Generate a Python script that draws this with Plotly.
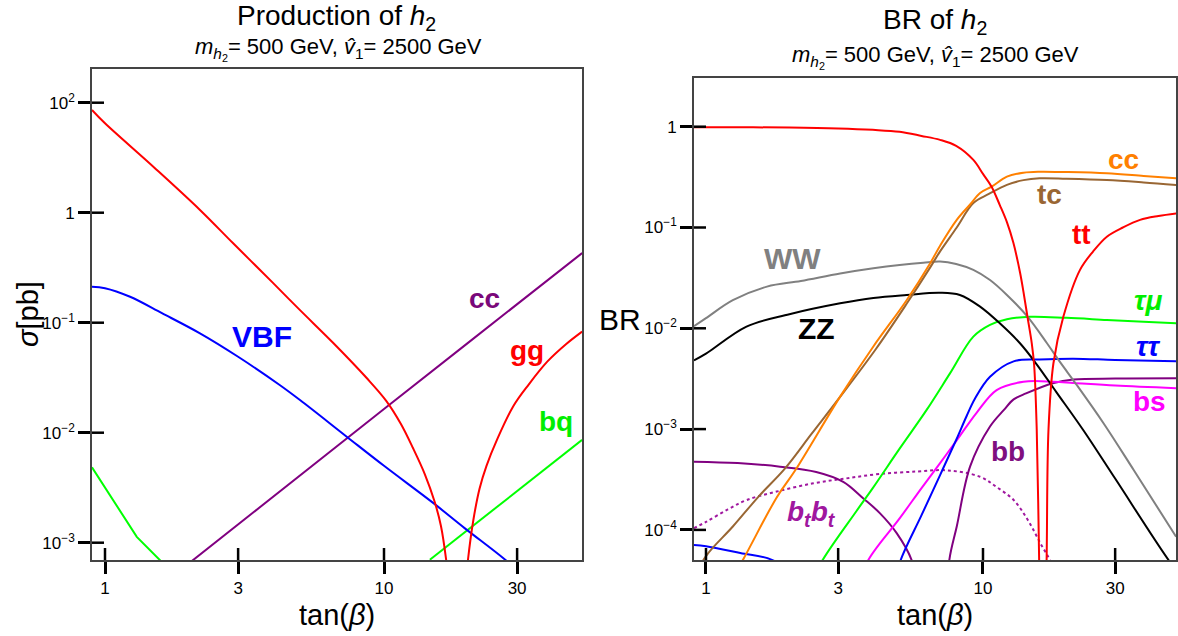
import plotly.graph_objects as go

W, H = 1178, 636

# ---------------- data: left panel (production cross sections, pb) ----------------
gg_t = [0.898, 1.0, 1.5, 2.19, 2.88, 4.0, 5.0, 6.58, 8.67, 10.2, 11.5, 12.7, 14.0, 15.2, 16.0, 16.7,
        17.4, 18.0, 18.4, 18.8, 19.5, 20.0, 20.9, 22.0, 23.3, 25.4, 29.1, 33.0, 38.4, 45.0, 51.3]
gg_v = [8.6, 6.5, 2.58, 1.06, 0.527, 0.23, 0.130, 0.0654, 0.0314, 0.0194, 0.0120, 0.00726, 0.00421, 0.00234,
        0.00142, 0.0007, 0.00025, 0.00005, 0.000001, 0.00005, 0.00035, 0.0007, 0.0016, 0.0031, 0.005,
        0.0086, 0.0175, 0.0274, 0.044, 0.064, 0.083]

vbf_t = [0.898, 1.0, 1.23, 1.6, 2.19, 3.0, 4.24, 5.0, 7.35, 10.0, 15.0, 19.5, 27.2, 35.0]
vbf_v = [0.212, 0.206, 0.172, 0.122, 0.080, 0.049, 0.027, 0.0198, 0.0092, 0.0050, 0.0023, 0.00135, 0.0007, 0.0004]

ccp_t = [2.0, 3.0, 5.0, 10.0, 20.0, 30.0, 51.3]
ccp_v = [0.00065, 0.00147, 0.0041, 0.0164, 0.0655, 0.147, 0.43]

bq_t = [0.898, 1.3, 1.7, None, 14.6, 20.0, 30.0, 51.3]
bq_v = [0.00485, 0.00113, 0.00057, None, 0.0007, 0.00131, 0.00296, 0.0086]

# ---------------- data: right panel (branching ratios) ----------------
tt_t = [0.905, 1.0, 2.0, 3.0, 4.0, 5.0, 6.0, 7.0, 8.0, 9.23, 10.0, 10.74, 11.5, 12.2, 12.88, 13.6, 14.0,
        14.5, 15.0, 15.3, 15.63, 15.95, 16.2, 16.45, 16.7, 16.97, 17.24, 17.96, 19.5, 22.4, 25.0, 28.0,
        32.0, 36.9, 43.0, 50.0]
tt_v = [0.99, 0.99, 0.98, 0.96, 0.93, 0.89, 0.81, 0.74, 0.645, 0.468, 0.34, 0.254, 0.167, 0.113, 0.07,
        0.036, 0.023, 0.0126, 0.0071, 0.0043, 0.0010, 0.00005, 0.000005, 0.000001, 0.000005, 0.00005,
        0.0010, 0.0045, 0.013, 0.038, 0.058, 0.081, 0.100, 0.119, 0.130, 0.138]

cc_t = [1.2, 1.36, 1.8, 2.1, 3.05, 4.02, 5.3, 6.44, 7.0, 8.04, 9.0, 9.76, 10.74, 12.2, 14.0, 16.0, 20.0,
        28.0, 38.0, 49.8]
cc_v = [2.8e-5, 5.05e-5, 2.1e-4, 3.9e-4, 2.1e-3, 6.6e-3, 0.019, 0.044, 0.066, 0.119, 0.17, 0.22, 0.254,
        0.32, 0.35, 0.358, 0.355, 0.345, 0.325, 0.308]

tc_t = [0.9, 1.0, 1.25, 1.545, 1.93, 2.4, 3.0, 4.1, 5.3, 6.44, 7.0, 8.04, 9.23, 10.5, 12.2, 14.0, 16.0,
        20.0, 28.0, 38.0, 49.8]
tc_v = [3.2e-5, 5.5e-5, 1.08e-4, 2.13e-4, 4.08e-4, 8.9e-4, 1.97e-3, 6.2e-3, 0.0175, 0.040, 0.058, 0.10,
        0.175, 0.215, 0.265, 0.295, 0.308, 0.305, 0.296, 0.28, 0.264]

ww_t = [0.905, 1.0, 1.25, 1.66, 2.2, 3.05, 4.02, 5.0, 6.09, 7.0, 8.0, 9.23, 10.6, 12.2, 14.5, 17.0, 18.9,
        21.8, 27.2, 35.0, 49.8]
ww_v = [0.0105, 0.0126, 0.019, 0.0259, 0.0295, 0.035, 0.0394, 0.0425, 0.0448, 0.046, 0.0435, 0.038, 0.0301,
        0.0214, 0.013, 0.00715, 0.00469, 0.00274, 0.00115, 0.000393, 0.0000856]

zz_t = [0.905, 1.0, 1.4, 2.0, 3.05, 4.02, 5.3, 7.0, 8.25, 9.76, 11.5, 13.6, 15.6, 18.4, 23.0, 30.0, 46.7, 55.0]
zz_v = [0.0048, 0.0056, 0.0104, 0.0138, 0.0177, 0.020, 0.0214, 0.0225, 0.0214, 0.0164, 0.0112, 0.0071,
        0.00442, 0.00233, 0.00098, 0.000323, 0.0000505, 0.000028]

taumu_t = [2.4, 2.64, 3.5, 4.0, 5.0, 6.26, 7.6, 9.23, 10.6, 12.2, 14.8, 20.0, 28.0, 38.0, 50.0]
taumu_v = [3e-5, 5.05e-5, 1.55e-4, 2.6e-4, 6.4e-4, 1.55e-3, 3.57e-3, 8.26e-3, 0.0108, 0.0123, 0.013,
           0.0127, 0.0121, 0.0116, 0.0112]

tautau_t = [0.905, 1.0, 1.33, 1.73, 2.1, None, 4.8, 5.05, 6.0, 7.0, 8.0, 8.73, 9.35, 10.6, 12.9, 16.0,
            21.2, 30.0, 50.0]
tautau_v = [7.1e-5, 6.9e-5, 5.9e-5, 5.05e-5, 3.5e-5, None, 3e-5, 5.05e-5, 1.4e-4, 3.5e-4, 7.8e-4, 1.35e-3,
            2.0e-3, 3.3e-3, 4.7e-3, 4.9e-3, 5.0e-3, 4.85e-3, 4.7e-3]

bs_t = [3.6, 3.86, 5.0, 6.0, 7.0, 8.0, 9.48, 11.2, 14.0, 18.0, 21.2, 30.0, 50.0]
bs_v = [3e-5, 5.05e-5, 1.3e-4, 2.6e-4, 4.6e-4, 7.6e-4, 1.45e-3, 2.44e-3, 2.95e-3, 2.95e-3, 2.87e-3,
        2.7e-3, 2.54e-3]

bb_t = [0.905, 1.3, 1.85, 2.5, 3.13, 3.7, 4.25, 4.88, 5.52, 5.9, None, 7.2, 7.56, 8.04, 8.98, 10.6, 11.9,
        12.9, 14.3, 18.0, 21.2, 30.0, 50.0]
bb_v = [4.75e-4, 4.6e-4, 4.24e-4, 3.76e-4, 3.0e-4, 2.05e-4, 1.46e-4, 9.3e-5, 5.05e-5, 2e-5, None, 1e-5,
        5.05e-5, 1.08e-4, 4.24e-4, 1.06e-3, 1.55e-3, 1.97e-3, 2.26e-3, 2.87e-3, 3.1e-3, 3.17e-3, 3.19e-3]

btbt_t = [0.905, 1.0, 1.2, 1.403, 1.8, 2.44, 3.2, 4.25, 5.8, 7.4, 9.76, 11.2, 12.9, 14.5, 16.1, 17.7, 18.5]
btbt_v = [1.04e-4, 1.2e-4, 1.6e-4, 1.98e-4, 2.4e-4, 2.9e-4, 3.24e-4, 3.59e-4, 3.8e-4, 3.9e-4, 3.37e-4,
          2.66e-4, 1.98e-4, 1.26e-4, 7.4e-5, 4.5e-5, 2e-5]

# ---------------- ticks ----------------
x_tickvals = [1, 3, 10, 30]
x_ticktext = ["1", "3", "10", "30"]
yl_tickvals = [10, 1, 0.1, 0.01, 0.001]
yl_ticktext = ["10<sup>2</sup>", "1", "10<sup>−1</sup>", "10<sup>−2</sup>", "10<sup>−3</sup>"]
yr_tickvals = [1, 0.1, 0.01, 0.001, 0.0001]
yr_ticktext = ["1", "10<sup>−1</sup>", "10<sup>−2</sup>", "10<sup>−3</sup>", "10<sup>−4</sup>"]

# ---------------- colours ----------------
RED, BLUE, GREEN, PURPLE = "#ff0000", "#0000ff", "#00ff00", "#800080"
ORANGE, BROWN, GRAY, MAGENTA, DOTPURPLE = "#ff8000", "#996633", "#808080", "#ff00ff", "#a0179f"

fig = go.Figure()


def add(tx, vy, color, panel, dash=None, width=2.0, smooth=True):
    xa, ya = ("x", "y") if panel == 1 else ("x2", "y2")
    line = dict(color=color, width=width, dash=dash)
    if smooth:
        line.update(shape="spline", smoothing=1.0)
    fig.add_trace(go.Scatter(x=tx, y=vy, mode="lines", xaxis=xa, yaxis=ya, line=line,
                             connectgaps=False, hoverinfo="skip", showlegend=False))


# left
add(ccp_t, ccp_v, PURPLE, 1, smooth=False)
add(bq_t, bq_v, GREEN, 1, smooth=False)
add(vbf_t, vbf_v, BLUE, 1)
add(gg_t, gg_v, RED, 1)
# right
add(btbt_t, btbt_v, DOTPURPLE, 2, dash="3px,3px")
add(bb_t, bb_v, PURPLE, 2)
add(bs_t, bs_v, MAGENTA, 2)
add(tautau_t, tautau_v, BLUE, 2)
add(taumu_t, taumu_v, GREEN, 2)
add(ww_t, ww_v, GRAY, 2)
add(zz_t, zz_v, "black", 2)
add(tc_t, tc_v, BROWN, 2)
add(cc_t, cc_v, ORANGE, 2)
add(tt_t, tt_v, RED, 2)

FONT = "Liberation Sans, Arial, sans-serif"
axis_common = dict(type="log", showgrid=False, zeroline=False, showline=True, mirror=True,
                   linecolor="#444444", linewidth=1.6, ticks="outside", ticklen=12, tickwidth=2.5,
                   tickcolor="black", tickfont=dict(size=17, color="black", family=FONT))

L_x0, L_x1, L_y0, L_y1 = 92, 582, 69, 560
R_x0, R_x1, R_y0, R_y1 = 694, 1176, 78, 560

fig.update_layout(
    width=W, height=H, margin=dict(l=0, r=0, t=0, b=0),
    plot_bgcolor="white", paper_bgcolor="white", showlegend=False,
    font=dict(family=FONT, size=17, color="black"),
    xaxis=dict(domain=[L_x0 / W, L_x1 / W], range=[-0.0466, 1.7097], tickvals=x_tickvals,
               ticktext=x_ticktext, anchor="y", **axis_common),
    yaxis=dict(domain=[1 - L_y1 / H, 1 - L_y0 / H], range=[-3.1573, 1.3064], tickvals=yl_tickvals,
               ticktext=yl_ticktext, anchor="x", **axis_common),
    xaxis2=dict(domain=[R_x0 / W, R_x1 / W], range=[-0.0433, 1.6968], tickvals=x_tickvals,
                ticktext=x_ticktext, anchor="y2", **axis_common),
    yaxis2=dict(domain=[1 - R_y1 / H, 1 - R_y0 / H], range=[-4.2986, 0.4831], tickvals=yr_tickvals,
                ticktext=yr_ticktext, anchor="x2", **axis_common),
)

# inner halves of the long tick marks (ticks straddle the frame)
shapes = []
for xr, yr, hx, hy, yt in (("x", "y", L_x1 - L_x0, L_y1 - L_y0, yl_tickvals),
                           ("x2", "y2", R_x1 - R_x0, R_y1 - R_y0, yr_tickvals)):
    for tv in x_tickvals:
        shapes.append(dict(type="line", xref=xr, yref=yr + " domain", x0=tv, x1=tv, y0=0, y1=12 / hy,
                           line=dict(color="black", width=2.5)))
    for tv in yt:
        shapes.append(dict(type="line", xref=xr + " domain", yref=yr, x0=0, x1=12 / hx, y0=tv, y1=tv,
                           line=dict(color="black", width=2.5)))
fig.update_layout(shapes=shapes)


def txt(px, py, text, size, color="black", bold=False, angle=0):
    if bold:
        text = "<b>" + text + "</b>"
    return dict(x=px / W, y=1 - py / H, xref="paper", yref="paper", text=text, showarrow=False,
                xanchor="center", yanchor="middle", textangle=angle,
                font=dict(size=size, color=color, family=FONT))


sub = "<i>m</i><sub><i>h</i><sub>2</sub></sub>= 500 GeV, <i>v̂</i><sub>1</sub>= 2500 GeV"
ann = [
    txt(336, 18, "Production of <i>h</i><sub>2</sub>", 28),
    txt(338, 49, sub, 22),
    txt(935, 22, "BR of <i>h</i><sub>2</sub>", 28),
    txt(935, 57, sub, 22),
    txt(337, 615, "tan(<i>β</i>)", 29),
    txt(935, 615, "tan(<i>β</i>)", 29),
    txt(28, 314, "<i>σ</i>[pb]", 29, angle=-90),
    txt(620, 319, "BR", 30),
    # left labels
    txt(262, 336, "VBF", 30, BLUE, True),
    txt(484, 298, "cc", 28, "#7a087a", True),
    txt(527, 350, "gg", 28, RED, True),
    txt(556, 421, "bq", 28, "#00ee00", True),
    # right labels
    txt(1123, 160, "cc", 28, ORANGE, True),
    txt(1049, 194, "tc", 28, BROWN, True),
    txt(1081, 235, "tt", 28, RED, True),
    txt(792, 258, "WW", 30, GRAY, True),
    txt(816, 328, "ZZ", 30, "black", True),
    txt(1148, 300, "<i>τμ</i>", 28, "#00ee00", True),
    txt(1148, 346, "<i>ττ</i>", 28, BLUE, True),
    txt(1149, 401, "bs", 28, MAGENTA, True),
    txt(1008, 452, "bb", 28, "#7f0f7f", True),
    txt(811, 513, "<i>b<sub>t</sub>b<sub>t</sub></i>", 28, DOTPURPLE, True),
]
fig.update_layout(annotations=ann)

fig.write_html("out.html")
